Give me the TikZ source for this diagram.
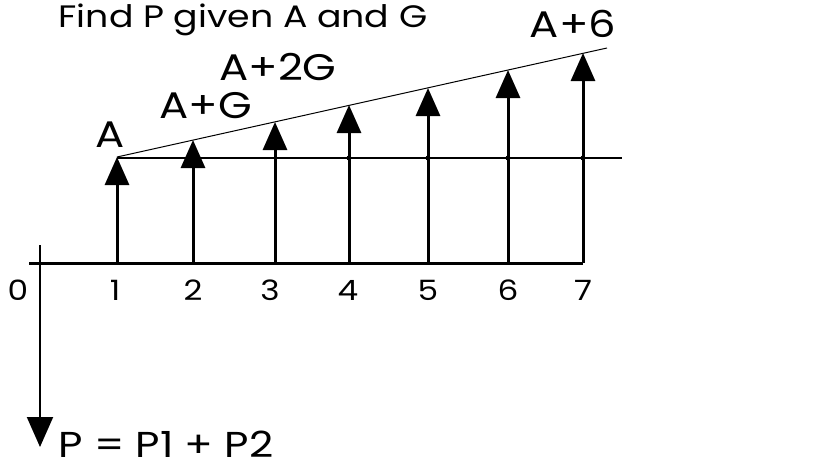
\documentclass[tikz,border=0pt]{standalone}
\usepackage{fontspec}
\setmainfont[FakeStretch=1.17]{Poppins}
\usetikzlibrary{arrows.meta}
\begin{document}
\begin{tikzpicture}[x=1pt,y=-1pt,
  cf/.style={line width=3pt,-{Triangle[length=28pt,width=24pt]}},
  pay/.style={line width=2pt,-{Triangle[length=30pt,width=26pt]}},
  lbl/.style={inner sep=0pt,anchor=base,font=\fontsize{37}{40}\selectfont},
  ttl/.style={inner sep=0pt,anchor=base,font=\fontsize{31}{34}\selectfont},
  num/.style={inner sep=0pt,anchor=base,font=\fontsize{28}{30}\selectfont},
  dot/.style={circle,fill,inner sep=0pt,minimum size=5pt}]
\useasboundingbox (0,0) rectangle (822,466);
% axis
\coordinate (axL) at (29,263);
\coordinate (axR) at (583,263);
\draw[line width=3pt] (axL) -- (axR);
% payment arrow
\coordinate (p0) at (40,245);
\coordinate (p1) at (40,447);
\draw[pay] (p0) -- (p1);
% base level and gradient lines
\coordinate (hL) at (117,158);
\coordinate (hR) at (622,158);
\draw[line width=1.6pt] (hL) -- (hR);
\coordinate (sL) at (117,157);
\coordinate (sR) at (607,48);
\draw[line width=1pt] (sL) -- (sR);
% cash flow arrows
\foreach \i/\x/\t in {1/117/157,2/193/140,3/275/122,4/349/105,5/428/88,6/508/70,7/583/53}{
  \coordinate (b\i) at (\x,263);
  \coordinate (t\i) at (\x,\t);
  \draw[cf] (b\i) -- (t\i);
}
\foreach \i/\x in {4/349,5/428,6/508,7/583}{
  \node[dot] (d\i) at (\x,158) {};
}
% labels
\node[ttl] (title) at (243,27) {Find P given A and G};
\node[lbl] (lA) at (110,147) {A};
\node[lbl] (lAG) at (206,118) {A+G};
\node[lbl] (lA2G) at (278,80) {A+2G};
\node[lbl] (lA6) at (573,37) {A+6};
\node[lbl,font=\fontsize{36}{40}\selectfont] (lP) at (166,457) {P = P1 + P2};
\foreach \i/\x in {0/18,1/115,2/193,3/270,4/348,5/428,6/508,7/583}{
  \node[num] (n\i) at (\x,300) {\i};
}
\end{tikzpicture}
\end{document}
